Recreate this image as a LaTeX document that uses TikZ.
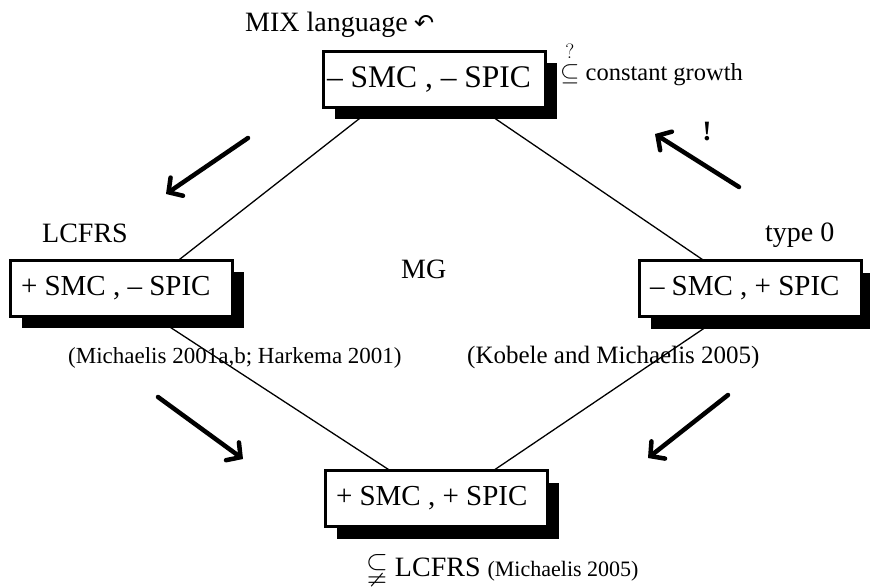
\documentclass[tikz,border=0pt]{standalone}
\usepackage{amssymb}
\usepackage{fontspec}
\setmainfont{Liberation Serif}
\newfontfamily\symfont{DejaVu Sans}
\usetikzlibrary{arrows.meta,shadows,backgrounds,calc}
\newcommand{\boxtext}[1]{\makebox[214pt][l]{#1}}
\tikzset{
  stbox/.style={draw, line width=3pt, fill=white, inner xsep=4pt,
    inner ysep=0pt, minimum height=56pt,
    font=\fontsize{29}{34}\selectfont,
    drop shadow={shadow xshift=12pt, shadow yshift=-12pt, opacity=1, fill=black}},
  lbl/.style={inner sep=0pt, anchor=base west, font=\fontsize{28}{32}\selectfont},
  refl/.style={inner sep=0pt, anchor=base west, font=\fontsize{23}{27}\selectfont},
  conn/.style={line width=1.3pt},
  bigarr/.style={line width=4.5pt, line cap=round, -{Straight Barb[length=10pt,width=22pt,line cap=round]}}
}
\begin{document}
\begin{tikzpicture}[x=1pt,y=-1pt]
\useasboundingbox (0,0) rectangle (870,587);
% boxes
\node[stbox, font=\fontsize{31.5}{36}\selectfont] (top) at (434,79) {\boxtext{– SMC , – SPIC}};
\node[stbox] (lft) at (121,288) {\boxtext{\hspace{7pt}+ SMC , – SPIC}};
\node[stbox] (rgt) at (750,288.5) {\boxtext{\hspace{7pt}– SMC , + SPIC}};
\node[stbox] (bot) at (436,498.5) {\boxtext{\hspace{7pt}+ SMC , + SPIC}};
% connectors behind boxes
\begin{pgfonlayer}{background}
\draw[conn] ($(top.center)+(-24,0)$) -- ($(lft.center)+(22,0)$);
\draw[conn] ($(top.center)+(3,0)$) -- ($(rgt.center)+(-5,0)$);
\draw[conn] ($(lft.center)+(-11,0)$) -- ($(bot.center)+(-3,0)$);
\draw[conn] ($(rgt.center)+(13,0)$) -- ($(bot.center)+(16,0)$);
\end{pgfonlayer}
% labels
\node[lbl] (mix) at (245,31) {MIX language};
\node[inner sep=0pt, anchor=base west, font=\symfont\fontsize{24}{28}\selectfont] (mixsym) at (414,31) {↶};
\node[lbl, font=\fontsize{24.5}{30}\selectfont] (cg) at (560,80) {{\fontsize{28}{32}\selectfont$\stackrel{?}{\subseteq}$} constant growth};
\node[lbl] (lcfrs) at (42,242) {LCFRS};
\node[lbl] (type0) at (765,241) {type 0};
\node[lbl] (mg) at (401,278) {MG};
\node[refl] (ref1) at (68,363) {(Michaelis 2001a,b; Harkema 2001)};
\node[refl, font=\fontsize{25}{29}\selectfont] (ref2) at (467,363) {(Kobele and Michaelis 2005)};
\node[lbl] (sub) at (366,576) {$\subsetneqq$ LCFRS {\fontsize{22}{26}\selectfont (Michaelis 2005)}};
\node[inner sep=0pt, font=\bfseries\fontsize{28}{32}\selectfont] (excl) at (707,132) {!};
% big arrows
\coordinate (a1s) at (248,138); \coordinate (a1e) at (166,194);
\coordinate (a2s) at (739,187); \coordinate (a2e) at (655,134);
\coordinate (a3s) at (158,397); \coordinate (a3e) at (243,459);
\coordinate (a4s) at (728,395); \coordinate (a4e) at (648,458);
\draw[bigarr] (a1s) -- (a1e);
\draw[bigarr] (a2s) -- (a2e);
\draw[bigarr] (a3s) -- (a3e);
\draw[bigarr] (a4s) -- (a4e);
\end{tikzpicture}
\end{document}
